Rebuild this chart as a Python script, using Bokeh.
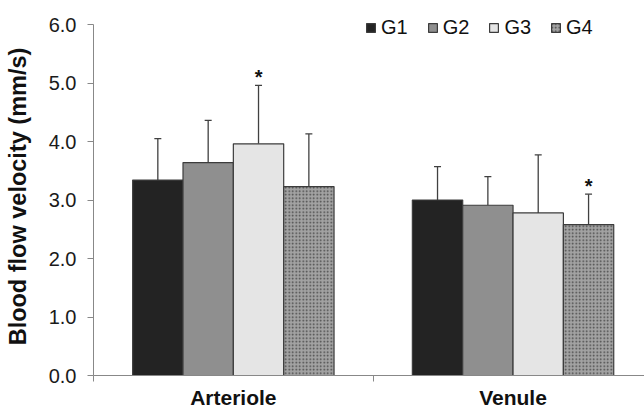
from bokeh.plotting import figure
from bokeh.models import (ColumnDataSource, FixedTicker, Whisker, TeeHead, Legend, LegendItem,
                          Range1d, PrintfTickFormatter)
from bokeh.embed import file_html
from bokeh.resources import INLINE
from bokeh.core.properties import value

categories = ["Arteriole", "Venule"]
groups = ["G1", "G2", "G3", "G4"]
means = {
    "G1": [3.34, 3.00],
    "G2": [3.64, 2.91],
    "G3": [3.96, 2.78],
    "G4": [3.23, 2.58],
}
errors = {
    "G1": [0.71, 0.57],
    "G2": [0.72, 0.49],
    "G3": [1.00, 0.99],
    "G4": [0.90, 0.52],
}
significant = {
    "G1": [False, False],
    "G2": [False, False],
    "G3": [True, False],
    "G4": [False, True],
}
y_ticks = [0, 1, 2, 3, 4, 5, 6]

offsets = [-0.27, -0.09, 0.09, 0.27]
bar_w = 0.18
fills = ["#232323", "#8f8f8f", "#e5e5e5", "#a2a2a2"]
FONT = "Liberation Sans"

p = figure(width=644, height=411, output_backend="svg", toolbar_location=None,
           x_range=Range1d(-0.5, 1.470), y_range=Range1d(0, 6.12),
           min_border_left=93, min_border_right=0, min_border_top=17, min_border_bottom=35)
p.outline_line_color = None
p.xgrid.grid_line_color = None
p.ygrid.grid_line_color = None
p.background_fill_color = "white"

renderers = []
for g, off, fc in zip(groups, offsets, fills):
    xs = [i + off for i in range(len(categories))]
    tops = means[g]
    ups = [m + e for m, e in zip(means[g], errors[g])]
    src = ColumnDataSource(dict(x=xs, top=tops, up=ups))
    kw = {}
    if g == "G4":
        kw = dict(hatch_pattern="dot", hatch_color="#454545", hatch_scale=3.5, hatch_weight=2.0)
    w = Whisker(base="x", lower="top", upper="up", source=src, line_color="#404040", line_width=1.3,
                lower_head=None, upper_head=TeeHead(size=7, line_color="#404040", line_width=1.3))
    p.add_layout(w)
    r = p.vbar(x="x", top="top", width=bar_w, source=src, fill_color=fc,
               line_color="#3c3c3c", line_width=1.2, **kw)
    renderers.append(r)
    sx = [x for x, s in zip(xs, significant[g]) if s]
    sy = [u for u, s in zip(ups, significant[g]) if s]
    if sx:
        p.text(x=sx, y=sy, text=["*"] * len(sx), text_align="center", text_baseline="bottom",
               y_offset=3, text_font=value(FONT), text_font_style="bold", text_font_size="20px",
               text_color="#111111")

legend = Legend(items=[LegendItem(label=g, renderers=[r]) for g, r in zip(groups, renderers)],
                orientation="horizontal", location=(272, 336), padding=0, margin=0,
                border_line_color=None, background_fill_alpha=0,
                glyph_width=11, glyph_height=11, label_standoff=5, spacing=19,
                label_text_font=FONT, label_text_font_size="20px", label_height=20,
                label_text_color="#111111")
p.add_layout(legend, "center")

# y axis
ya = p.yaxis[0]
ya.ticker = FixedTicker(ticks=y_ticks)
ya.bounds = (0, 6)
ya.formatter = PrintfTickFormatter(format="%.1f")
ya.axis_line_color = "#888888"
ya.major_tick_line_color = "#888888"
ya.major_tick_out = 6
ya.major_tick_in = 0
ya.minor_tick_line_color = None
ya.major_label_text_font = FONT
ya.major_label_text_font_size = "20px"
ya.major_label_text_color = "#1a1a1a"
ya.major_label_standoff = 11
ya.axis_label = "Blood flow velocity (mm/s)"
ya.axis_label_text_font = FONT
ya.axis_label_text_font_style = "bold"
ya.axis_label_text_font_size = "23.5px"
ya.axis_label_text_color = "#111111"
ya.axis_label_standoff = 15

# x axis
xa = p.xaxis[0]
xa.ticker = FixedTicker(ticks=[0, 1], minor_ticks=[-0.5, 0.5, 1.5])
xa.major_label_overrides = {0: categories[0], 1: categories[1]}
xa.axis_line_color = "#888888"
xa.major_tick_line_color = None
xa.major_tick_out = 0
xa.major_tick_in = 0
xa.minor_tick_line_color = "#888888"
xa.minor_tick_out = 6
xa.minor_tick_in = 0
xa.major_label_text_font = FONT
xa.major_label_text_font_style = "bold"
xa.major_label_text_font_size = "21px"
xa.major_label_text_color = "#111111"
xa.major_label_standoff = 4

open("out.html", "w").write(file_html(p, INLINE))
